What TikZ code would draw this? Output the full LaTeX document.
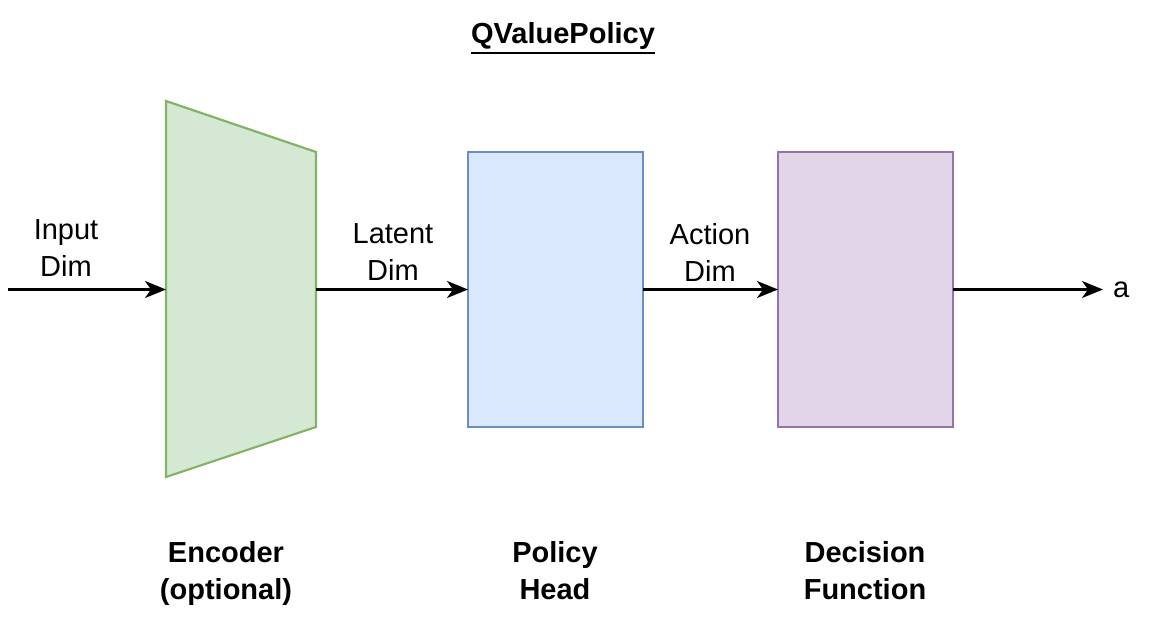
\documentclass[tikz,border=0pt]{standalone}
\usepackage{fontspec}
\setmainfont{Liberation Sans}
\usetikzlibrary{arrows.meta}
\definecolor{encfill}{HTML}{D5E8D4}
\definecolor{encdraw}{HTML}{82B366}
\definecolor{polfill}{HTML}{DAE8FC}
\definecolor{poldraw}{HTML}{6C8EBF}
\definecolor{decfill}{HTML}{E1D5E7}
\definecolor{decdraw}{HTML}{9673A6}
\tikzset{
  blk/.style={draw, line width=2.2pt, minimum width=175pt, minimum height=275pt, inner sep=0pt, outer sep=0pt, anchor=north west},
  conn/.style={draw, line width=2.2pt, -{Stealth[length=21pt,width=17pt,inset=6pt]}},
  lbl/.style={font=\fontsize{29}{37}\selectfont, align=center, inner sep=0pt},
  blbl/.style={font=\fontsize{29}{37}\selectfont\bfseries, align=center, inner sep=0pt},
}
\begin{document}
\begin{tikzpicture}[x=1pt,y=-1pt]
\useasboundingbox (0,0) rectangle (1149,632);
% encoder trapezoid
\draw[fill=encfill, draw=encdraw, line width=2.2pt] (166,101) -- (316,152) -- (316,427) -- (166,477) -- cycle;
\coordinate (encin) at (166,289.5);
\coordinate (encout) at (316,289.5);
\coordinate (start) at (8,289.5);
\node[blk, fill=polfill, draw=poldraw] (pol) at (468,152) {};
\node[blk, fill=decfill, draw=decdraw] (dec) at (778,152) {};
\node[lbl, anchor=west] (a) at (1113,289.5) {a};
\draw[conn] (start) -- (encin);
\draw[conn] (encout) -- (pol.west);
\draw[conn] (pol.east) -- (dec.west);
\draw[conn, shorten >=10pt] (dec.east) -- (a.west);
\node[lbl] (inlbl) at (66,248) {Input\\Dim};
\node[lbl] (latlbl) at (393,252) {Latent\\Dim};
\node[lbl] (actlbl) at (710,252) {Action\\Dim};
\node[blbl] (enclbl) at (226,573) {Encoder\\(optional)};
\node[blbl] (pollbl) at (555,571) {Policy\\Head};
\node[blbl] (declbl) at (865,571) {Decision\\Function};
\node[blbl] (title) at (563,36) {QValuePolicy};
\draw[line width=2.2pt] ([yshift=-3pt]title.south west) -- ([yshift=-3pt]title.south east);
\end{tikzpicture}
\end{document}
